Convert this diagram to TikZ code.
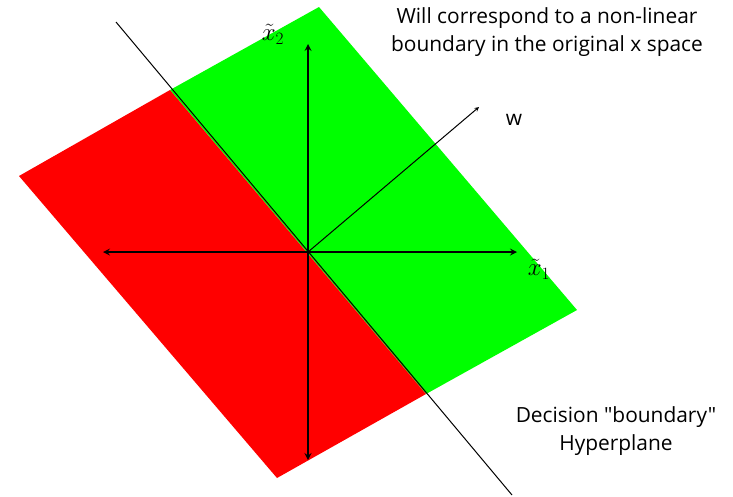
\documentclass[tikz,border=0pt]{standalone}
\usepackage{fontspec}
\setmainfont{Open Sans}[Ligatures=TeXOff]
\begin{document}
\begin{tikzpicture}[x=1pt, y=-1pt, font=\fontsize{20.9}{28}\selectfont]
    \useasboundingbox (0,0) rectangle (733,496);

    % half planes
    \coordinate (o) at (308,252);
    \fill[green] (170,90) -- (319,7) -- (577,310) -- (426,394) -- cycle;
    \fill[red] (19,176) -- (170,90) -- (426,394) -- (277,478) -- cycle;

    % hyperplane
    \coordinate (h1) at (116,22);
    \coordinate (h2) at (512,495);
    \draw[black, line width=1pt] (h1) -- (h2);

    % axes
    \coordinate (xl) at (103,252);
    \coordinate (xr) at (517,252);
    \coordinate (yt) at (308,44);
    \coordinate (yb) at (308,460);
    \draw[stealth-stealth, line width=2pt] (xl) -- (xr);
    \draw[stealth-stealth, line width=2pt] (yb) -- (yt);
    \coordinate (wt) at (479,107);
    \draw[-stealth, line width=1pt] (o) -- (wt);

    \node[font=\fontsize{24}{24}\selectfont, inner sep=0pt] (lx1) at (539,269) {$\tilde{x}_1$};
    \node[font=\fontsize{24}{24}\selectfont, inner sep=0pt] (lx2) at (273,34) {$\tilde{x}_2$};
    \node (lw) at (514,120) {w};

    \node[align=center] (note) at (547,32) {Will correspond to a non-linear\\boundary in the original x space};
    \node[align=center] (hyp) at (616,431) {Decision "boundary"\\Hyperplane};
\end{tikzpicture}
\end{document}
